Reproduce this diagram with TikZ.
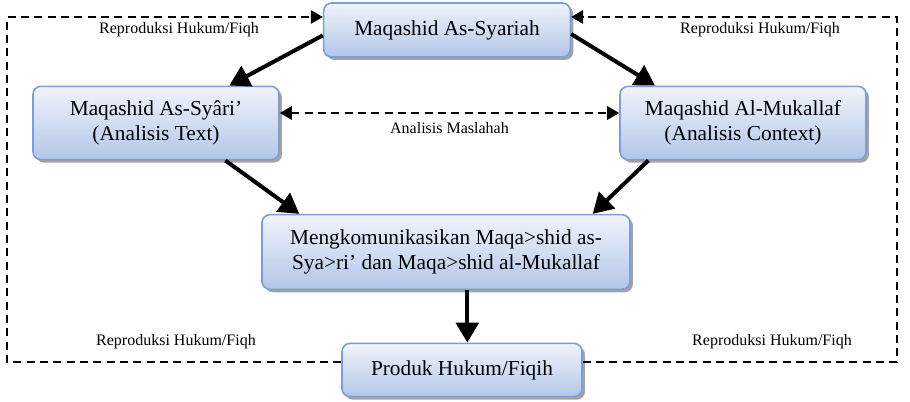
\documentclass[tikz,border=0pt]{standalone}
\usepackage{fontspec}
\setmainfont{Liberation Serif}
\usetikzlibrary{arrows.meta,shadows}
\definecolor{boxline}{HTML}{7E9DD4}
\definecolor{boxtop}{HTML}{F0F4FB}
\definecolor{boxbot}{HTML}{B2C6E8}
\begin{document}
\begin{tikzpicture}[x=0.75pt,y=-0.75pt,
  box/.style={draw=boxline, line width=1.2pt, rounded corners=6pt, top color=boxtop, bottom color=boxbot,
    drop shadow={shadow xshift=2.2pt, shadow yshift=-2.2pt, fill=black!45, opacity=.8},
    align=center, font=\fontsize{16pt}{19pt}\selectfont, inner sep=0pt},
  lbl/.style={font=\fontsize{12pt}{14pt}\selectfont, inner sep=1pt},
  flow/.style={line width=3pt, -{Triangle[length=15pt,width=17pt]}},
  loop/.style={line width=1.6pt, dash pattern=on 6pt off 4pt, -{Triangle[length=9pt,width=10pt]}}]
\useasboundingbox (0,0) rectangle (910,402);
\node[box, minimum width=185pt, minimum height=40.5pt] (mqs) at (447,30){Maqashid As-Syariah};
\node[box, minimum width=184.5pt, minimum height=55pt] (mqa) at (156,123){Maqashid As-Syâri’\\(Analisis Text)};
\node[box, minimum width=184.5pt, minimum height=55pt] (mqm) at (743,123){Maqashid Al-Mukallaf\\(Analisis Context)};
\node[box, minimum width=276pt, minimum height=56pt] (komun) at (446,252){Mengkomunikasikan Maqa>shid as-\\Sya>ri’ dan Maqa>shid al-Mukallaf};
\node[box, minimum width=180pt, minimum height=40pt] (produk) at (462,370){Produk Hukum/Fiqih};
% corners of the outer loop
\coordinate (tl) at (7,17);
\coordinate (bl) at (7,362);
\coordinate (tr) at (897,17);
\coordinate (br) at (897,362);
\node[lbl] (rtl) at (179,30){Reproduksi Hukum/Fiqh};
\node[lbl] (rtr) at (760,30){Reproduksi Hukum/Fiqh};
\node[lbl] (rbl) at (176,342){Reproduksi Hukum/Fiqh};
\node[lbl] (rbr) at (772,342){Reproduksi Hukum/Fiqh};
\draw[flow] ([yshift=-4pt]mqs.west) -- ([xshift=55pt]mqa.north);
\draw[flow] ([yshift=-3pt]mqs.east) -- ([xshift=-66pt]mqm.north);
\draw[flow] ([xshift=52pt]mqa.south) -- ([xshift=-110pt]komun.north);
\draw[flow] ([xshift=-71pt]mqm.south) -- ([xshift=110pt]komun.north);
\draw[flow] ([xshift=16pt]komun.south) -- ([xshift=16pt]komun.south |- produk.north);
\draw[loop, {Triangle[length=9pt,width=10pt]}-{Triangle[length=9pt,width=10pt]}] ([yshift=7.5pt]mqa.east) -- node[lbl, below=5pt] (masl) {Analisis Maslahah} ([yshift=7.5pt]mqm.west);
\draw[loop] (produk.west |- bl) -- (bl) -- (tl) -- (mqs.west |- tl);
\draw[loop] (produk.east |- br) -- (br) -- (tr) -- (mqs.east |- tr);
\end{tikzpicture}
\end{document}
